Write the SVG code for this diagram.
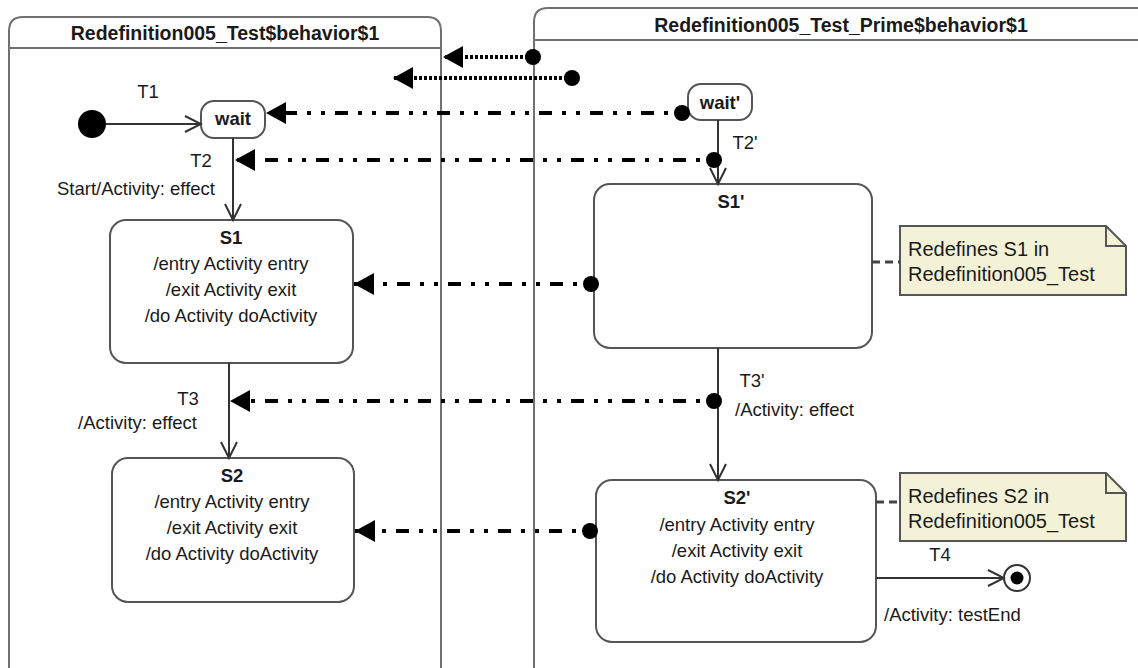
<svg xmlns="http://www.w3.org/2000/svg" width="1138" height="668" viewBox="0 0 1138 668">
<defs>
<style>
text{font-family:"Liberation Sans",Arial,sans-serif;font-size:18.5px;fill:#1a1a1a}
.b{font-weight:bold}
.c{text-anchor:middle}
.r{text-anchor:end}
.t{font-size:19.5px}
.n{font-size:20px}
.frame{fill:#fff;stroke:#707070;stroke-width:2}
.st{fill:#fff;stroke:#555;stroke-width:2}
.note{fill:#f3f2d6;stroke:#555;stroke-width:2}
.tr{stroke:#333;stroke-width:2;fill:none}
.dot{stroke:#000;stroke-width:4;fill:none;stroke-dasharray:3 2}
.dd{stroke:#000;stroke-width:4;fill:none;stroke-dasharray:4 10 4 10 13 10}
.nl{stroke:#444;stroke-width:3;fill:none;stroke-dasharray:8 5}
</style>
<marker id="open" markerWidth="20" markerHeight="18" refX="18" refY="9" orient="auto" markerUnits="userSpaceOnUse">
<path d="M2,1 L18,9 L2,17" fill="none" stroke="#333" stroke-width="2"/>
</marker>
<marker id="tri" markerWidth="22" markerHeight="24" refX="20" refY="12" orient="auto" markerUnits="userSpaceOnUse">
<path d="M0,1 L20,12 L0,23 Z" fill="#000"/>
</marker>
</defs>

<g id="frame-left">
<path class="frame" d="M9,680 V31 Q9,17 23,17 H427 Q441,17 441,31 V680"/>
<line x1="9" y1="48" x2="441" y2="48" stroke="#707070" stroke-width="2"/>
<text class="b c t" x="225" y="40">Redefinition005_Test$behavior$1</text>
</g>
<g id="frame-right">
<path class="frame" d="M534,680 V22 Q534,8 548,8 H1150"/>
<line x1="534" y1="40" x2="1150" y2="40" stroke="#707070" stroke-width="2"/>
<text class="b c t" x="841" y="32">Redefinition005_Test_Prime$behavior$1</text>
</g>

<g id="initial"><circle cx="92" cy="124" r="14" fill="#000"/></g>
<g id="wait">
<rect class="st" x="201" y="101" width="64" height="37" rx="13"/>
<text class="b c" x="233" y="125">wait</text>
</g>
<g id="S1">
<rect class="st" x="110" y="220" width="243" height="143" rx="16"/>
<text class="b c" x="231" y="244">S1</text>
<text class="c" x="231" y="270">/entry Activity entry</text>
<text class="c" x="231" y="296">/exit Activity exit</text>
<text class="c" x="231" y="322">/do Activity doActivity</text>
</g>
<g id="S2">
<rect class="st" x="112" y="458" width="242" height="144" rx="16"/>
<text class="b c" x="232" y="482">S2</text>
<text class="c" x="232" y="508">/entry Activity entry</text>
<text class="c" x="232" y="534">/exit Activity exit</text>
<text class="c" x="232" y="560">/do Activity doActivity</text>
</g>

<g id="waitP">
<rect class="st" x="688" y="84" width="64" height="36" rx="13"/>
<text class="b c" x="720" y="109">wait'</text>
</g>
<g id="S1P">
<rect class="st" x="594" y="184" width="278" height="164" rx="16"/>
<text class="b c" x="731" y="208">S1'</text>
</g>
<g id="S2P">
<rect class="st" x="596" y="480" width="280" height="162" rx="16"/>
<text class="b c" x="737" y="504">S2'</text>
<text class="c" x="737" y="531">/entry Activity entry</text>
<text class="c" x="737" y="557">/exit Activity exit</text>
<text class="c" x="737" y="583">/do Activity doActivity</text>
</g>
<g id="final">
<circle cx="1017" cy="578" r="13" fill="#fff" stroke="#333" stroke-width="2"/>
<circle cx="1017" cy="578" r="6.5" fill="#000"/>
</g>
<g id="note1">
<path class="note" d="M900,226 H1106 L1126,246 V295 H900 Z"/>
<path d="M1106,226 V246 H1126" fill="none" stroke="#555" stroke-width="2"/>
<text class="n" x="908" y="256">Redefines S1 in</text>
<text class="n" x="908" y="281">Redefinition005_Test</text>
</g>
<g id="note2">
<path class="note" d="M900,473 H1106 L1126,493 V541 H900 Z"/>
<path d="M1106,473 V493 H1126" fill="none" stroke="#555" stroke-width="2"/>
<text class="n" x="908" y="503">Redefines S2 in</text>
<text class="n" x="908" y="528">Redefinition005_Test</text>
</g>

<g id="connectors">
<line class="tr" x1="106" y1="124" x2="201" y2="124" marker-end="url(#open)"/>
<text class="c" x="148" y="98">T1</text>
<line class="tr" x1="233" y1="138" x2="233" y2="220" marker-end="url(#open)"/>
<text class="c" x="201" y="167">T2</text>
<text class="r" x="215" y="195">Start/Activity: effect</text>
<line class="tr" x1="229" y1="363" x2="229" y2="458" marker-end="url(#open)"/>
<text class="c" x="188" y="405">T3</text>
<text class="r" x="197" y="429">/Activity: effect</text>
<line class="tr" x1="718" y1="120" x2="718" y2="184" marker-end="url(#open)"/>
<text class="c" x="745" y="149">T2'</text>
<line class="tr" x1="718" y1="348" x2="718" y2="480" marker-end="url(#open)"/>
<text class="c" x="752" y="387">T3'</text>
<text x="735" y="416">/Activity: effect</text>
<line class="tr" x1="876" y1="578" x2="1004" y2="578" marker-end="url(#open)"/>
<text class="c" x="940" y="561">T4</text>
<text x="884" y="621">/Activity: testEnd</text>
<line class="nl" x1="872" y1="262" x2="900" y2="262"/>
<line class="nl" x1="876" y1="502" x2="900" y2="502"/>

<line class="dot" x1="533" y1="57" x2="443" y2="57" marker-end="url(#tri)"/>
<circle cx="533" cy="57" r="8" fill="#000"/>
<line class="dot" x1="572" y1="78" x2="393" y2="78" marker-end="url(#tri)"/>
<circle cx="572" cy="78" r="8" fill="#000"/>
<line class="dd" x1="682" y1="113" x2="266" y2="113" marker-end="url(#tri)"/>
<circle cx="682" cy="113" r="8" fill="#000"/>
<line class="dd" x1="714" y1="160" x2="235" y2="160" marker-end="url(#tri)"/>
<circle cx="714" cy="160" r="8" fill="#000"/>
<line class="dd" x1="591" y1="284" x2="354" y2="284" marker-end="url(#tri)"/>
<circle cx="591" cy="284" r="8" fill="#000"/>
<line class="dd" x1="714" y1="401" x2="230" y2="401" marker-end="url(#tri)"/>
<circle cx="714" cy="401" r="8" fill="#000"/>
<line class="dd" x1="590" y1="531" x2="355" y2="531" marker-end="url(#tri)"/>
<circle cx="590" cy="531" r="8" fill="#000"/>
</g>
</svg>
